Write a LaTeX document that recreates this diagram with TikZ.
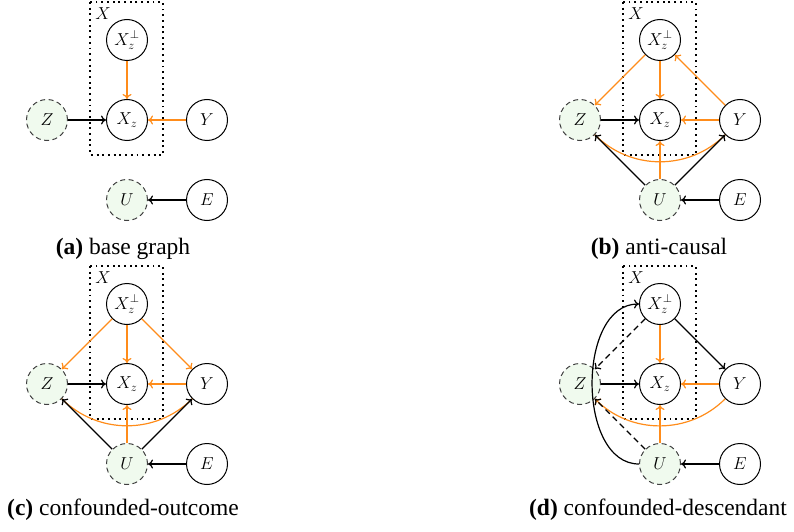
\documentclass[tikz,border=0pt]{standalone}
\usepackage{fontspec}
\setmainfont{Liberation Serif}
\usetikzlibrary{arrows.meta}
\definecolor{org}{RGB}{255,140,26}
\definecolor{lgreen}{RGB}{240,250,238}
\tikzset{
  var/.style={circle, draw=black, line width=1pt, minimum size=41pt, inner sep=0pt, font=\fontsize{17.5}{20}\selectfont},
  lat/.style={var, draw=black!75, dash pattern=on 5pt off 3.5pt, fill=lgreen},
  lbl/.style={inner sep=0pt, font=\fontsize{17.5}{20}\selectfont},
  ed/.style={-{To[length=5pt,width=9pt]}, line width=1.2pt, draw=black},
  oe/.style={ed, draw=org},
  dd/.style={ed, dash pattern=on 6pt off 4pt},
  xbox/.style={line width=1.9pt, dash pattern=on 1.9pt off 3.8pt},
  captext/.style={font=\fontsize{23.5}{27}\selectfont, anchor=base, inner sep=0pt}
}
\newcommand\panelnodes[1]{%
  \draw[xbox] (-37,38) rectangle (36,-115);
  \node[lbl] (#1lab) at (-24,26) {$X$};
  \node[var] (#1p) at (0,0) {$X_z^{\perp}$};
  \node[var] (#1x) at (0,-80) {$X_z$};
  \node[lat] (#1z) at (-80,-80) {$Z$};
  \node[var] (#1y) at (80,-80) {$Y$};
  \node[lat] (#1u) at (0,-160) {$U$};
  \node[var] (#1e) at (80,-160) {$E$};
}
\begin{document}
\begin{tikzpicture}[x=1pt,y=1pt]
\useasboundingbox (0,0) rectangle (794,531);
% (a)
\begin{scope}[shift={(127,491)}]
  \panelnodes{a}
  \draw[oe] (ap) -- (ax);
  \draw[oe] (ay) -- (ax);
  \draw[ed] (az) -- (ax);
  \draw[ed] (ae) -- (au);
\end{scope}
\node[captext] (capa) at (123,277) {\textbf{(a)} base graph};
% (b)
\begin{scope}[shift={(660,491)}]
  \panelnodes{b}
  \draw[oe,-] (bz) to[out=-45,in=-135] (by);
  \draw[oe] (bp) -- (bz);
  \draw[oe] (bp) -- (bx);
  \draw[oe] (by) -- (bp);
  \draw[oe] (by) -- (bx);
  \draw[oe] (bu) -- (bx);
  \draw[ed] (bz) -- (bx);
  \draw[ed] (bu) -- (bz);
  \draw[ed] (bu) -- (by);
  \draw[ed] (be) -- (bu);
\end{scope}
\node[captext] (capb) at (659,277) {\textbf{(b)} anti-causal};
% (c)
\begin{scope}[shift={(127,227)}]
  \panelnodes{c}
  \draw[oe,-] (cz) to[out=-45,in=-135] (cy);
  \draw[oe] (cp) -- (cz);
  \draw[oe] (cp) -- (cx);
  \draw[oe] (cp) -- (cy);
  \draw[oe] (cy) -- (cx);
  \draw[oe] (cu) -- (cx);
  \draw[ed] (cz) -- (cx);
  \draw[ed] (cu) -- (cz);
  \draw[ed] (cu) -- (cy);
  \draw[ed] (ce) -- (cu);
\end{scope}
\node[captext] (capc) at (123,16) {\textbf{(c)} confounded-outcome};
% (d)
\begin{scope}[shift={(660,227)}]
  \panelnodes{d}
  \draw[oe] (dy) to[out=-135,in=-45] (dz);
  \draw[oe] (dp) -- (dx);
  \draw[oe] (dy) -- (dx);
  \draw[oe] (du) -- (dx);
  \draw[dd] (dp) -- (dz);
  \draw[dd] (du) -- (dz);
  \draw[ed] (dp) -- (dy);
  \draw[ed] (dz) -- (dx);
  \draw[ed] (du) to[out=180,in=180] (dp);
  \draw[ed] (de) -- (du);
\end{scope}
\node[captext] (capd) at (658,16) {\textbf{(d)} confounded-descendant};
\end{tikzpicture}
\end{document}
